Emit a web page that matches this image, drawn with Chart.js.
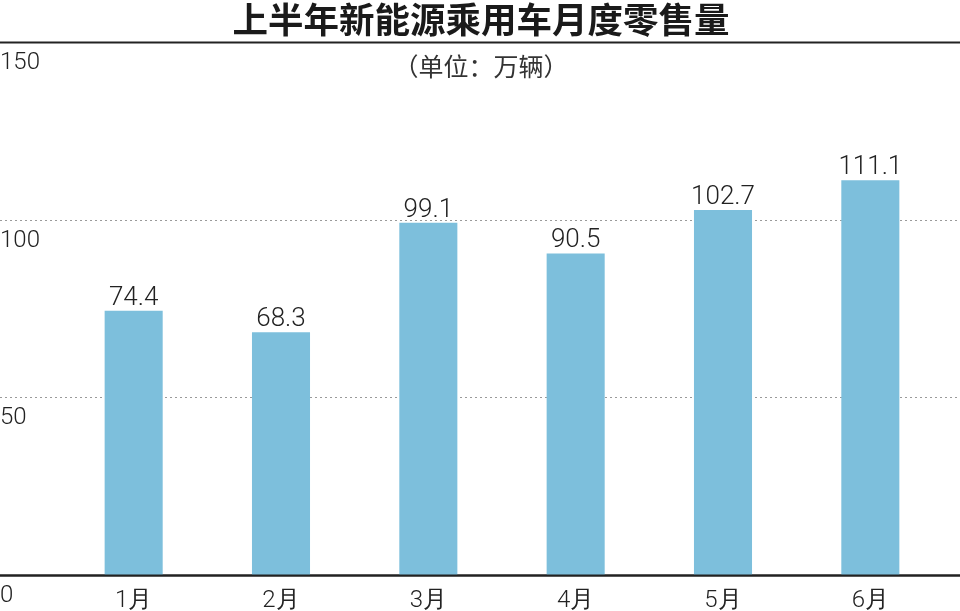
<!DOCTYPE html>
<html>
<head>
<meta charset="utf-8">
<script src="https://cdn.jsdelivr.net/npm/chart.js@4/dist/chart.umd.min.js"></script>
<style>
  html, body { margin: 0; padding: 0; background: #fff; }
  #wrap { width: 960px; height: 611px; }
</style>
</head>
<body>
<div id="wrap"><canvas id="c" width="960" height="611"></canvas></div>
<script>
const titleText = '上半年新能源乘用车月度零售量';
const subtitleText = '（单位：万辆）';
const categories = ['1月', '2月', '3月', '4月', '5月', '6月'];
const sales = [74.4, 68.3, 99.1, 90.5, 102.7, 111.1];
const yTicks = [0, 50, 100, 150];

const numFont = '"Roboto", "Liberation Sans", sans-serif';
const cjkFont = '"Noto Sans CJK SC", sans-serif';

const rulesPlugin = {
  id: 'rules',
  beforeDatasetsDraw(chart) {
    const ctx = chart.ctx;
    const y = chart.scales.y;
    ctx.save();
    yTicks.forEach(v => {
      const py = Math.round(y.getPixelForValue(v)) + 0.5;
      ctx.beginPath();
      if (v === y.min || v === y.max) {
        ctx.setLineDash([]);
        ctx.strokeStyle = '#222';
        ctx.lineWidth = 2;
      } else {
        ctx.setLineDash([2, 3]);
        ctx.strokeStyle = '#9a9a9a';
        ctx.lineWidth = 1;
      }
      ctx.moveTo(0, py);
      ctx.lineTo(chart.width, py);
      ctx.stroke();
    });
    ctx.restore();
  },
  afterDatasetsDraw(chart) {
    const ctx = chart.ctx;
    ctx.save();
    const y = chart.scales.y;
    const py = Math.round(y.getPixelForValue(0)) + 0.5;
    ctx.strokeStyle = '#222';
    ctx.lineWidth = 2;
    ctx.beginPath();
    ctx.moveTo(0, py);
    ctx.lineTo(chart.width, py);
    ctx.stroke();
    const meta = chart.getDatasetMeta(0);
    ctx.fillStyle = '#222';
    ctx.font = '300 26px ' + numFont;
    ctx.textAlign = 'center';
    ctx.textBaseline = 'alphabetic';
    meta.data.forEach((bar, i) => {
      ctx.fillText(String(sales[i]), bar.x, bar.y - 6);
    });
    ctx.fillStyle = '#1a1a1a';
    ctx.font = 'bold 35.5px ' + cjkFont;
    ctx.textBaseline = 'middle';
    ctx.fillText(titleText, 481, 20);
    ctx.fillStyle = '#333';
    ctx.font = '25px ' + cjkFont;
    ctx.fillText(subtitleText, 481, 66);
    ctx.restore();
  }
};

new Chart(document.getElementById('c'), {
  type: 'bar',
  data: {
    labels: categories,
    datasets: [{
      data: sales,
      backgroundColor: '#7dbfdc',
      borderWidth: 0,
      categoryPercentage: 1,
      barPercentage: 0.394
    }]
  },
  options: {
    responsive: false,
    animation: false,
    devicePixelRatio: 1,
    layout: { padding: { top: 42, right: 16, left: 0, bottom: 0 } },
    plugins: {
      legend: { display: false },
      tooltip: { enabled: false },
      title: { display: false }
    },
    scales: {
      x: {
        grid: { display: false, drawTicks: false },
        border: { display: false },
        ticks: {
          color: '#222',
          padding: 12,
          font: { family: numFont, size: 24, weight: '300' }
        },
        afterFit(scale) { scale.height = 36; }
      },
      y: {
        min: 0,
        max: 150,
        afterBuildTicks(scale) { scale.ticks = yTicks.map(v => ({ value: v })); },
        grid: { display: false, drawTicks: false },
        border: { display: false },
        ticks: {
          color: '#222',
          crossAlign: 'far',
          labelOffset: 21,
          padding: 0,
          font: { family: numFont, size: 24, weight: '300' }
        },
        afterFit(scale) { scale.width = 60; }
      }
    }
  },
  plugins: [rulesPlugin]
});
</script>
</body>
</html>
